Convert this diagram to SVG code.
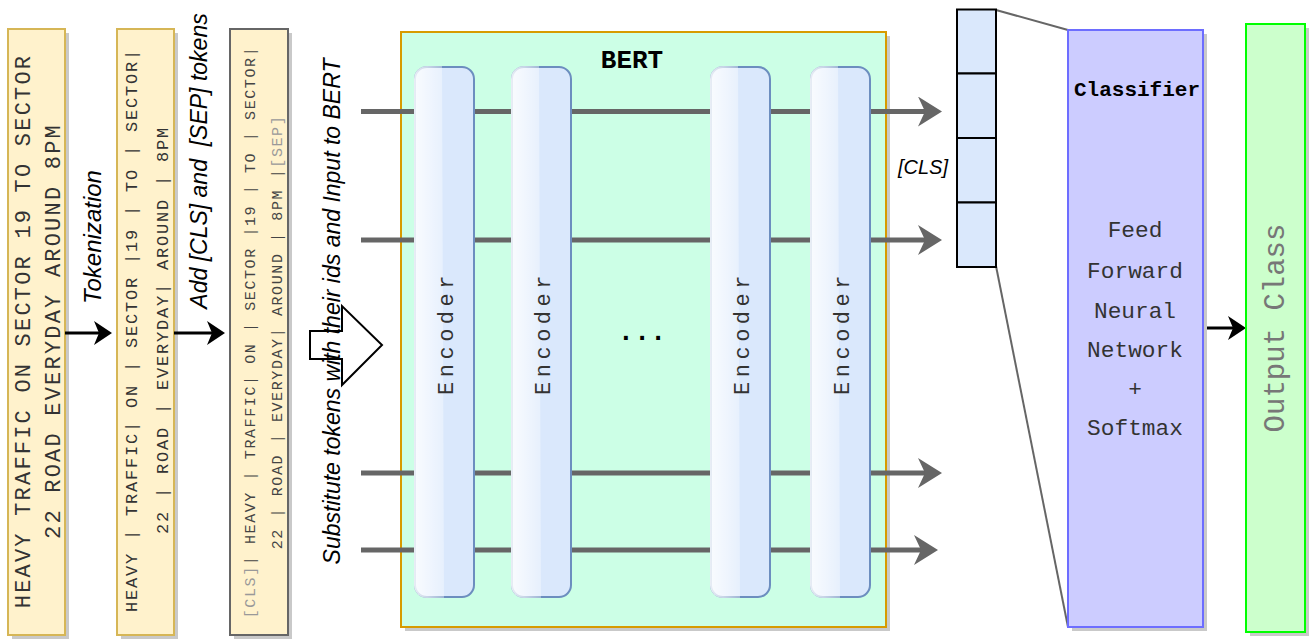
<svg xmlns="http://www.w3.org/2000/svg" width="1309" height="642" viewBox="0 0 1309 642">
  <style>
    .mono { font-family: "Courier New", "Liberation Mono", monospace; }
    .sans-i { font-family: "Liberation Sans", Arial, sans-serif; font-style: italic; fill: #000; }
    .shadow { fill: #c9c9c9; }
    .tok { fill: #fff2cc; stroke: #d6b656; stroke-width: 2; }
    .enc { fill: #dae8fc; stroke: #6c8ebf; stroke-width: 2; }
    .enc-label { font-size: 22px; fill: #333; letter-spacing: 4.5px; }
    .bus { stroke: #666; stroke-width: 5; fill: none; }
    .thin { stroke: #666; stroke-width: 2; fill: none; }
    .blk { stroke: #000; stroke-width: 3; fill: none; }
    .cell { fill: #dae8fc; stroke: #000; stroke-width: 2; }
  </style>
  <defs>
    <marker id="bigHead" viewBox="0 0 24 30" markerUnits="userSpaceOnUse" markerWidth="24" markerHeight="30" refX="7" refY="15" orient="auto">
      <path d="M0,0 L24,15 L0,30 L7,15 Z" fill="#666"/>
    </marker>
    <marker id="blkHead" viewBox="0 0 18 24" markerUnits="userSpaceOnUse" markerWidth="18" markerHeight="24" refX="5" refY="12" orient="auto">
      <path d="M0,0 L18,12 L0,24 L5,12 Z" fill="#000"/>
    </marker>
    <linearGradient id="glass" x1="0" y1="0" x2="1" y2="0">
      <stop offset="0" stop-color="#fff" stop-opacity="0.85"/>
      <stop offset="1" stop-color="#fff" stop-opacity="0.35"/>
    </linearGradient>
    <g id="encoder">
      <rect class="enc" x="0" y="0" width="59" height="530" rx="12" ry="12"/>
      <path d="M12,-1 H27 L29,531 H12 A13,13 0 0 1 -1,518 V12 A13,13 0 0 1 12,-1 Z" fill="url(#glass)"/>
    </g>
  </defs>

  <!-- raw sentence -->
  <g id="sentence">
    <rect class="shadow" x="12" y="33" width="57" height="606"/>
    <rect class="tok" x="8" y="29" width="57" height="606"/>
    <text class="mono" font-size="22" letter-spacing="2.2" fill="#333" text-anchor="middle" transform="translate(30,331) rotate(-90)"><tspan x="0" y="0">HEAVY TRAFFIC ON SECTOR 19 TO SECTOR</tspan><tspan x="0" y="29.5">22 ROAD EVERYDAY AROUND 8PM</tspan></text>
  </g>

  <!-- tokenized sentence -->
  <g id="tokens">
    <rect class="shadow" x="121" y="33" width="57" height="606"/>
    <rect class="tok" x="117" y="29" width="57" height="606"/>
    <text class="mono" font-size="17" letter-spacing="1.8" fill="#333" text-anchor="middle" transform="translate(137,330) rotate(-90)"><tspan x="0" y="0">HEAVY | TRAFFIC| ON | SECTOR |19 | TO | SECTOR|</tspan><tspan x="0" y="31">22 | ROAD | EVERYDAY| AROUND | 8PM</tspan></text>
  </g>

  <!-- tokens with special markers -->
  <g id="special-tokens">
    <rect class="shadow" x="234" y="33" width="58" height="606"/>
    <rect x="230" y="29" width="58" height="606" fill="#fff2cc" stroke="#666" stroke-width="2"/>
    <text class="mono" font-size="15" letter-spacing="1.6" fill="#444" text-anchor="middle" transform="translate(255,332) rotate(-90)"><tspan x="0" y="0"><tspan fill="#999">[CLS]</tspan>| HEAVY | TRAFFIC| ON | SECTOR |19 | TO | SECTOR|</tspan><tspan x="0" y="27">22 | ROAD | EVERYDAY| AROUND | 8PM |<tspan fill="#999">[SEP]</tspan></tspan></text>
  </g>

  <!-- step labels -->
  <g id="labels">
    <text class="sans-i" font-size="24" text-anchor="middle" transform="translate(101,237) rotate(-90)">Tokenization</text>
    <text class="sans-i" font-size="23" text-anchor="middle" xml:space="preserve" transform="translate(207,161) rotate(-90)">Add [CLS] and  [SEP] tokens</text>
  </g>

  <!-- BERT container -->
  <g id="bert">
    <rect class="shadow" x="405" y="36" width="485" height="595"/>
    <rect x="401" y="32" width="485" height="595" fill="#ccffe6" stroke="#d79b00" stroke-width="2"/>
    <text class="mono" font-size="26" font-weight="bold" text-anchor="middle" x="632" y="68">BERT</text>
  </g>

  <!-- connectors: pipeline arrows, token buses, vector-to-classifier guides -->
  <g id="connectors">
    <line class="blk" x1="65" y1="333" x2="99" y2="333" marker-end="url(#blkHead)"/>
    <line class="blk" x1="174" y1="333" x2="212" y2="333" marker-end="url(#blkHead)"/>
    <line class="bus" x1="361" y1="111.5" x2="925" y2="111.5" marker-end="url(#bigHead)"/>
    <line class="bus" x1="361" y1="240" x2="925" y2="240" marker-end="url(#bigHead)"/>
    <line class="bus" x1="361" y1="473" x2="925" y2="473" marker-end="url(#bigHead)"/>
    <line class="bus" x1="361" y1="550" x2="921" y2="550" marker-end="url(#bigHead)"/>
    <line class="thin" x1="996" y1="10" x2="1068" y2="30"/>
    <line class="thin" x1="996" y1="266" x2="1068" y2="627"/>
    <line class="blk" x1="1203" y1="328" x2="1233" y2="328" marker-end="url(#blkHead)"/>
  </g>

  <!-- input block arrow -->
  <g id="input-arrow">
    <path d="M310,331 H342 V306 L382,345 L342,385 V359 H310 Z" fill="#fff" stroke="#000" stroke-width="2"/>
    <text class="sans-i" font-size="23" text-anchor="middle" transform="translate(340,311.5) rotate(-90)">Substitute tokens with their ids and Input to BERT</text>
  </g>

  <!-- encoder stack -->
  <g id="encoder-1">
    <use href="#encoder" x="415" y="67"/>
    <text class="mono enc-label" text-anchor="middle" transform="translate(453,333) rotate(-90)">Encoder</text>
  </g>
  <g id="encoder-2">
    <use href="#encoder" x="512" y="67"/>
    <text class="mono enc-label" text-anchor="middle" transform="translate(550,333) rotate(-90)">Encoder</text>
  </g>
  <g id="ellipsis">
    <text class="mono" font-size="27" font-weight="bold" text-anchor="middle" x="642" y="340">...</text>
  </g>
  <g id="encoder-3">
    <use href="#encoder" x="711" y="67"/>
    <text class="mono enc-label" text-anchor="middle" transform="translate(749,333) rotate(-90)">Encoder</text>
  </g>
  <g id="encoder-4">
    <use href="#encoder" x="811" y="67"/>
    <text class="mono enc-label" text-anchor="middle" transform="translate(849,333) rotate(-90)">Encoder</text>
  </g>

  <!-- [CLS] output vector -->
  <g id="cls-vector">
    <rect class="cell" x="957" y="9.5" width="39" height="64"/>
    <rect class="cell" x="957" y="73.5" width="39" height="64.5"/>
    <rect class="cell" x="957" y="138" width="39" height="64.5"/>
    <rect class="cell" x="957" y="202.5" width="39" height="64.5"/>
    <text class="sans-i" font-size="20" x="898" y="174">[CLS]</text>
  </g>

  <!-- classifier head -->
  <g id="classifier">
    <rect class="shadow" x="1072" y="34" width="135" height="597"/>
    <rect x="1068" y="30" width="135" height="597" fill="#ccccff" stroke="#6d6dff" stroke-width="2"/>
    <text class="mono" font-size="21" font-weight="bold" text-anchor="middle" x="1137" y="96">Classifier</text>
    <g class="mono" font-size="22.8" fill="#333" text-anchor="middle">
      <text x="1135" y="237">Feed</text>
      <text x="1135" y="278">Forward</text>
      <text x="1135" y="318">Neural</text>
      <text x="1135" y="357">Network</text>
      <text x="1135" y="396">+</text>
      <text x="1135" y="435">Softmax</text>
    </g>
  </g>

  <!-- prediction -->
  <g id="output-class">
    <rect class="shadow" x="1250" y="28" width="59" height="608"/>
    <rect x="1246" y="24" width="59" height="608" fill="#ccffcc" stroke="#00ff00" stroke-width="2"/>
    <text class="mono" font-size="29" fill="#777" text-anchor="middle" transform="translate(1284,328) rotate(-90)">Output Class</text>
  </g>
</svg>
